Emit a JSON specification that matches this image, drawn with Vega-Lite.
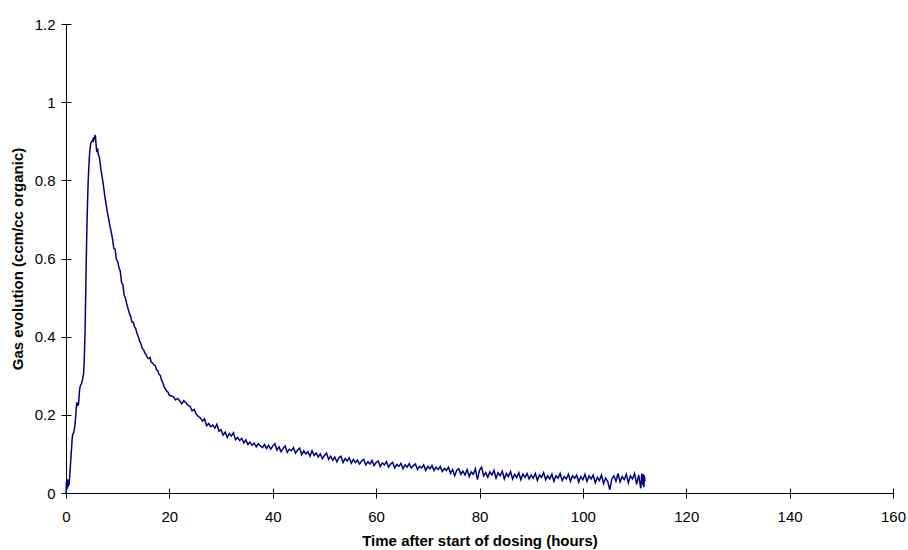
{
  "$schema": "https://vega.github.io/schema/vega-lite/v6.json",
  "autosize": "none",
  "width": 827,
  "height": 469,
  "padding": {"left": 66, "top": 24, "right": 15, "bottom": 57},
  "background": "white",
  "config": {"view": {"stroke": null}, "font": "Liberation Sans"},
  "data": {"values": [
    {"t":0,"g":0.0},{"t":0.1,"g":0.03},{"t":0.2,"g":0.01},{"t":0.3,"g":0.035},{"t":0.4,"g":0.015},{"t":0.5,"g":0.032},{"t":0.6,"g":0.02},{"t":0.7,"g":0.04},{"t":0.8,"g":0.06},{"t":0.9,"g":0.08},
    {"t":1.0,"g":0.1},{"t":1.1,"g":0.12},{"t":1.2,"g":0.14},{"t":1.3,"g":0.15},{"t":1.5,"g":0.155},{"t":1.7,"g":0.17},{"t":1.9,"g":0.2},{"t":2.0,"g":0.22},{"t":2.1,"g":0.232},{"t":2.2,"g":0.222},
    {"t":2.3,"g":0.231},{"t":2.4,"g":0.224},{"t":2.5,"g":0.24},{"t":2.6,"g":0.26},{"t":2.7,"g":0.27},{"t":2.8,"g":0.275},{"t":3.0,"g":0.28},{"t":3.2,"g":0.29},{"t":3.4,"g":0.305},{"t":3.5,"g":0.33},
    {"t":3.6,"g":0.37},{"t":3.7,"g":0.42},{"t":3.8,"g":0.5},{"t":3.9,"g":0.58},{"t":4.0,"g":0.65},{"t":4.1,"g":0.71},{"t":4.2,"g":0.76},{"t":4.3,"g":0.8},{"t":4.4,"g":0.83},{"t":4.5,"g":0.855},
    {"t":4.6,"g":0.875},{"t":4.7,"g":0.885},{"t":4.8,"g":0.895},{"t":5.0,"g":0.9},{"t":5.2,"g":0.905},{"t":5.3,"g":0.898},{"t":5.4,"g":0.91},{"t":5.5,"g":0.905},{"t":5.6,"g":0.916},{"t":5.7,"g":0.912},
    {"t":5.8,"g":0.895},{"t":5.9,"g":0.878},{"t":6.0,"g":0.872},{"t":6.1,"g":0.882},{"t":6.25,"g":0.866},{"t":6.5,"g":0.857},{"t":6.75,"g":0.828},{"t":7.0,"g":0.808},{"t":7.25,"g":0.786},{"t":7.5,"g":0.76},
    {"t":7.75,"g":0.74},{"t":8.0,"g":0.718},{"t":8.25,"g":0.702},{"t":8.5,"g":0.683},{"t":8.75,"g":0.668},{"t":9.0,"g":0.65},{"t":9.25,"g":0.626},{"t":9.5,"g":0.624},{"t":9.75,"g":0.598},{"t":10.0,"g":0.592},
    {"t":10.25,"g":0.576},{"t":10.5,"g":0.568},{"t":10.75,"g":0.538},{"t":11.0,"g":0.534},{"t":11.25,"g":0.506},{"t":11.5,"g":0.499},{"t":11.75,"g":0.484},{"t":12.0,"g":0.472},{"t":12.25,"g":0.46},{"t":12.5,"g":0.452},
    {"t":12.75,"g":0.438},{"t":13.0,"g":0.437},{"t":13.25,"g":0.426},{"t":13.5,"g":0.42},{"t":13.75,"g":0.408},{"t":14.0,"g":0.4},{"t":14.25,"g":0.388},{"t":14.5,"g":0.382},{"t":14.75,"g":0.37},{"t":15.0,"g":0.367},
    {"t":15.25,"g":0.358},{"t":15.5,"g":0.354},{"t":15.75,"g":0.346},{"t":16.0,"g":0.344},{"t":16.25,"g":0.347},{"t":16.5,"g":0.334},{"t":16.75,"g":0.333},{"t":17.0,"g":0.328},{"t":17.25,"g":0.326},{"t":17.5,"g":0.316},
    {"t":17.75,"g":0.313},{"t":18.0,"g":0.303},{"t":18.25,"g":0.301},{"t":18.5,"g":0.288},{"t":18.75,"g":0.282},{"t":19.0,"g":0.271},{"t":19.25,"g":0.266},{"t":19.5,"g":0.26},{"t":19.75,"g":0.258},{"t":20.0,"g":0.25},
    {"t":20.4,"g":0.248},{"t":20.8,"g":0.246},{"t":21.2,"g":0.238},{"t":21.6,"g":0.242},{"t":22.0,"g":0.236},{"t":22.4,"g":0.228},{"t":22.8,"g":0.236},{"t":23.2,"g":0.231},{"t":23.6,"g":0.224},{"t":24.0,"g":0.222},
    {"t":24.4,"g":0.21},{"t":24.8,"g":0.214},{"t":25.2,"g":0.202},{"t":25.6,"g":0.196},{"t":26.0,"g":0.192},{"t":26.4,"g":0.184},{"t":26.8,"g":0.19},{"t":27.2,"g":0.172},{"t":27.6,"g":0.178},{"t":28.0,"g":0.17},
    {"t":28.4,"g":0.174},{"t":28.8,"g":0.166},{"t":29.2,"g":0.176},{"t":29.6,"g":0.158},{"t":30.0,"g":0.162},{"t":30.4,"g":0.148},{"t":30.8,"g":0.156},{"t":31.2,"g":0.142},{"t":31.6,"g":0.152},{"t":32.0,"g":0.146},
    {"t":32.4,"g":0.154},{"t":32.8,"g":0.136},{"t":33.2,"g":0.142},{"t":33.6,"g":0.134},{"t":34.0,"g":0.14},{"t":34.4,"g":0.128},{"t":34.8,"g":0.136},{"t":35.2,"g":0.124},{"t":35.6,"g":0.13},{"t":36.0,"g":0.122},
    {"t":36.4,"g":0.128},{"t":36.8,"g":0.118},{"t":37.2,"g":0.126},{"t":37.6,"g":0.121},{"t":38.0,"g":0.116},{"t":38.4,"g":0.124},{"t":38.8,"g":0.114},{"t":39.2,"g":0.122},{"t":39.6,"g":0.112},{"t":40.0,"g":0.12},
    {"t":40.4,"g":0.126},{"t":40.8,"g":0.11},{"t":41.2,"g":0.118},{"t":41.6,"g":0.106},{"t":42.0,"g":0.114},{"t":42.4,"g":0.12},{"t":42.8,"g":0.104},{"t":43.2,"g":0.112},{"t":43.6,"g":0.108},{"t":44.0,"g":0.116},
    {"t":44.4,"g":0.102},{"t":44.8,"g":0.11},{"t":45.2,"g":0.115},{"t":45.6,"g":0.098},{"t":46.0,"g":0.108},{"t":46.4,"g":0.1},{"t":46.8,"g":0.106},{"t":47.2,"g":0.094},{"t":47.6,"g":0.108},{"t":48.0,"g":0.096},
    {"t":48.4,"g":0.102},{"t":48.8,"g":0.092},{"t":49.2,"g":0.1},{"t":49.6,"g":0.088},{"t":50.0,"g":0.096},{"t":50.4,"g":0.102},{"t":50.8,"g":0.086},{"t":51.2,"g":0.094},{"t":51.6,"g":0.084},{"t":52.0,"g":0.092},
    {"t":52.4,"g":0.08},{"t":52.8,"g":0.09},{"t":53.2,"g":0.094},{"t":53.6,"g":0.078},{"t":54.0,"g":0.088},{"t":54.4,"g":0.082},{"t":54.8,"g":0.09},{"t":55.2,"g":0.076},{"t":55.6,"g":0.086},{"t":56.0,"g":0.078},
    {"t":56.4,"g":0.084},{"t":56.8,"g":0.074},{"t":57.2,"g":0.082},{"t":57.6,"g":0.086},{"t":58.0,"g":0.072},{"t":58.4,"g":0.08},{"t":58.8,"g":0.074},{"t":59.2,"g":0.083},{"t":59.6,"g":0.07},{"t":60.0,"g":0.078},
    {"t":60.4,"g":0.082},{"t":60.8,"g":0.068},{"t":61.2,"g":0.077},{"t":61.6,"g":0.072},{"t":62.0,"g":0.08},{"t":62.4,"g":0.066},{"t":62.8,"g":0.074},{"t":63.2,"g":0.078},{"t":63.6,"g":0.064},{"t":64.0,"g":0.073},
    {"t":64.4,"g":0.068},{"t":64.8,"g":0.076},{"t":65.2,"g":0.062},{"t":65.6,"g":0.072},{"t":66.0,"g":0.066},{"t":66.4,"g":0.075},{"t":66.8,"g":0.064},{"t":67.2,"g":0.07},{"t":67.6,"g":0.074},{"t":68.0,"g":0.06},
    {"t":68.4,"g":0.068},{"t":68.8,"g":0.064},{"t":69.2,"g":0.072},{"t":69.6,"g":0.058},{"t":70.0,"g":0.068},{"t":70.4,"g":0.062},{"t":70.8,"g":0.07},{"t":71.2,"g":0.058},{"t":71.6,"g":0.066},{"t":72.0,"g":0.06},
    {"t":72.4,"g":0.068},{"t":72.8,"g":0.055},{"t":73.2,"g":0.063},{"t":73.6,"g":0.058},{"t":74.0,"g":0.066},{"t":74.4,"g":0.05},{"t":74.8,"g":0.06},{"t":75.2,"g":0.044},{"t":75.6,"g":0.058},{"t":76.0,"g":0.062},
    {"t":76.4,"g":0.048},{"t":76.8,"g":0.056},{"t":77.2,"g":0.046},{"t":77.6,"g":0.06},{"t":78.0,"g":0.042},{"t":78.4,"g":0.054},{"t":78.8,"g":0.048},{"t":79.2,"g":0.062},{"t":79.6,"g":0.034},{"t":80.0,"g":0.058},
    {"t":80.4,"g":0.066},{"t":80.8,"g":0.044},{"t":81.2,"g":0.052},{"t":81.6,"g":0.04},{"t":82.0,"g":0.054},{"t":82.4,"g":0.046},{"t":82.8,"g":0.058},{"t":83.2,"g":0.038},{"t":83.6,"g":0.052},{"t":84.0,"g":0.044},
    {"t":84.4,"g":0.056},{"t":84.8,"g":0.036},{"t":85.2,"g":0.05},{"t":85.6,"g":0.042},{"t":86.0,"g":0.055},{"t":86.4,"g":0.036},{"t":86.8,"g":0.048},{"t":87.2,"g":0.04},{"t":87.6,"g":0.052},{"t":88.0,"g":0.034},
    {"t":88.4,"g":0.048},{"t":88.8,"g":0.04},{"t":89.2,"g":0.05},{"t":89.6,"g":0.036},{"t":90.0,"g":0.046},{"t":90.4,"g":0.038},{"t":90.8,"g":0.05},{"t":91.2,"g":0.032},{"t":91.6,"g":0.046},{"t":92.0,"g":0.04},
    {"t":92.4,"g":0.052},{"t":92.8,"g":0.034},{"t":93.2,"g":0.044},{"t":93.6,"g":0.036},{"t":94.0,"g":0.048},{"t":94.4,"g":0.03},{"t":94.8,"g":0.044},{"t":95.2,"g":0.038},{"t":95.6,"g":0.05},{"t":96.0,"g":0.032},
    {"t":96.4,"g":0.042},{"t":96.8,"g":0.036},{"t":97.2,"g":0.048},{"t":97.6,"g":0.03},{"t":98.0,"g":0.044},{"t":98.4,"g":0.038},{"t":98.8,"g":0.046},{"t":99.2,"g":0.028},{"t":99.6,"g":0.042},{"t":100.0,"g":0.034},
    {"t":100.4,"g":0.048},{"t":100.8,"g":0.03},{"t":101.2,"g":0.044},{"t":101.6,"g":0.036},{"t":102.0,"g":0.046},{"t":102.4,"g":0.026},{"t":102.8,"g":0.04},{"t":103.2,"g":0.032},{"t":103.6,"g":0.046},{"t":104.0,"g":0.024},
    {"t":104.4,"g":0.038},{"t":104.8,"g":0.03},{"t":105.2,"g":0.008},{"t":105.6,"g":0.036},{"t":106.0,"g":0.044},{"t":106.4,"g":0.03},{"t":106.8,"g":0.05},{"t":107.2,"g":0.028},{"t":107.6,"g":0.042},{"t":108.0,"g":0.034},
    {"t":108.4,"g":0.048},{"t":108.8,"g":0.026},{"t":109.2,"g":0.044},{"t":109.6,"g":0.036},{"t":110.0,"g":0.05},{"t":110.4,"g":0.022},{"t":110.8,"g":0.046},{"t":111.2,"g":0.012},{"t":111.4,"g":0.05},{"t":111.6,"g":0.02},
    {"t":111.7,"g":0.048},{"t":111.8,"g":0.015},{"t":111.9,"g":0.045},{"t":112.0,"g":0.03}
  ]},
  "layer": [
    {
      "mark": {"type": "line", "color": "#000080", "strokeWidth": 1.5, "interpolate": "linear"},
      "encoding": {
        "x": {"field": "t", "type": "quantitative", "scale": {"domain": [0, 160], "nice": false},
          "axis": {"orient": "bottom", "values": [0,20,40,60,80,100,120,140,160], "grid": false, "title": "Time after start of dosing (hours)",
            "domainColor": "#000", "tickColor": "#000", "tickSize": 5, "labelFontSize": 15, "labelColor": "#000", "labelPadding": 11,
            "titleFontSize": 15, "titleFontWeight": "bold", "titleColor": "#000", "titlePadding": 9, "labelFlush": false}},
        "y": {"field": "g", "type": "quantitative", "scale": {"domain": [0, 1.2], "nice": false},
          "axis": {"orient": "left", "values": [0,0.2,0.4,0.6,0.8,1,1.2], "format": "~g", "grid": false, "title": "Gas evolution (ccm/cc organic)",
            "domainColor": "#000", "tickColor": "#000", "tickSize": 5, "labelFontSize": 15, "labelColor": "#000", "labelPadding": 6,
            "titleFontSize": 15, "titleFontWeight": "bold", "titleColor": "#000", "titlePadding": 9, "labelFlush": false}}
      }
    },
    {
      "mark": {"type": "point", "opacity": 0},
      "encoding": {
        "x": {"field": "t", "type": "quantitative", "scale": {"domain": [0, 160], "nice": false},
          "axis": {"orient": "bottom", "values": [0,20,40,60,80,100,120,140,160], "grid": false, "title": null, "labels": false, "domain": false, "tickColor": "#000", "tickSize": -5}},
        "y": {"field": "g", "type": "quantitative", "scale": {"domain": [0, 1.2], "nice": false},
          "axis": {"orient": "left", "values": [0,0.2,0.4,0.6,0.8,1,1.2], "grid": false, "title": null, "labels": false, "domain": false, "tickColor": "#000", "tickSize": -5}}
      }
    }
  ],
  "resolve": {"axis": {"x": "independent", "y": "independent"}}
}
